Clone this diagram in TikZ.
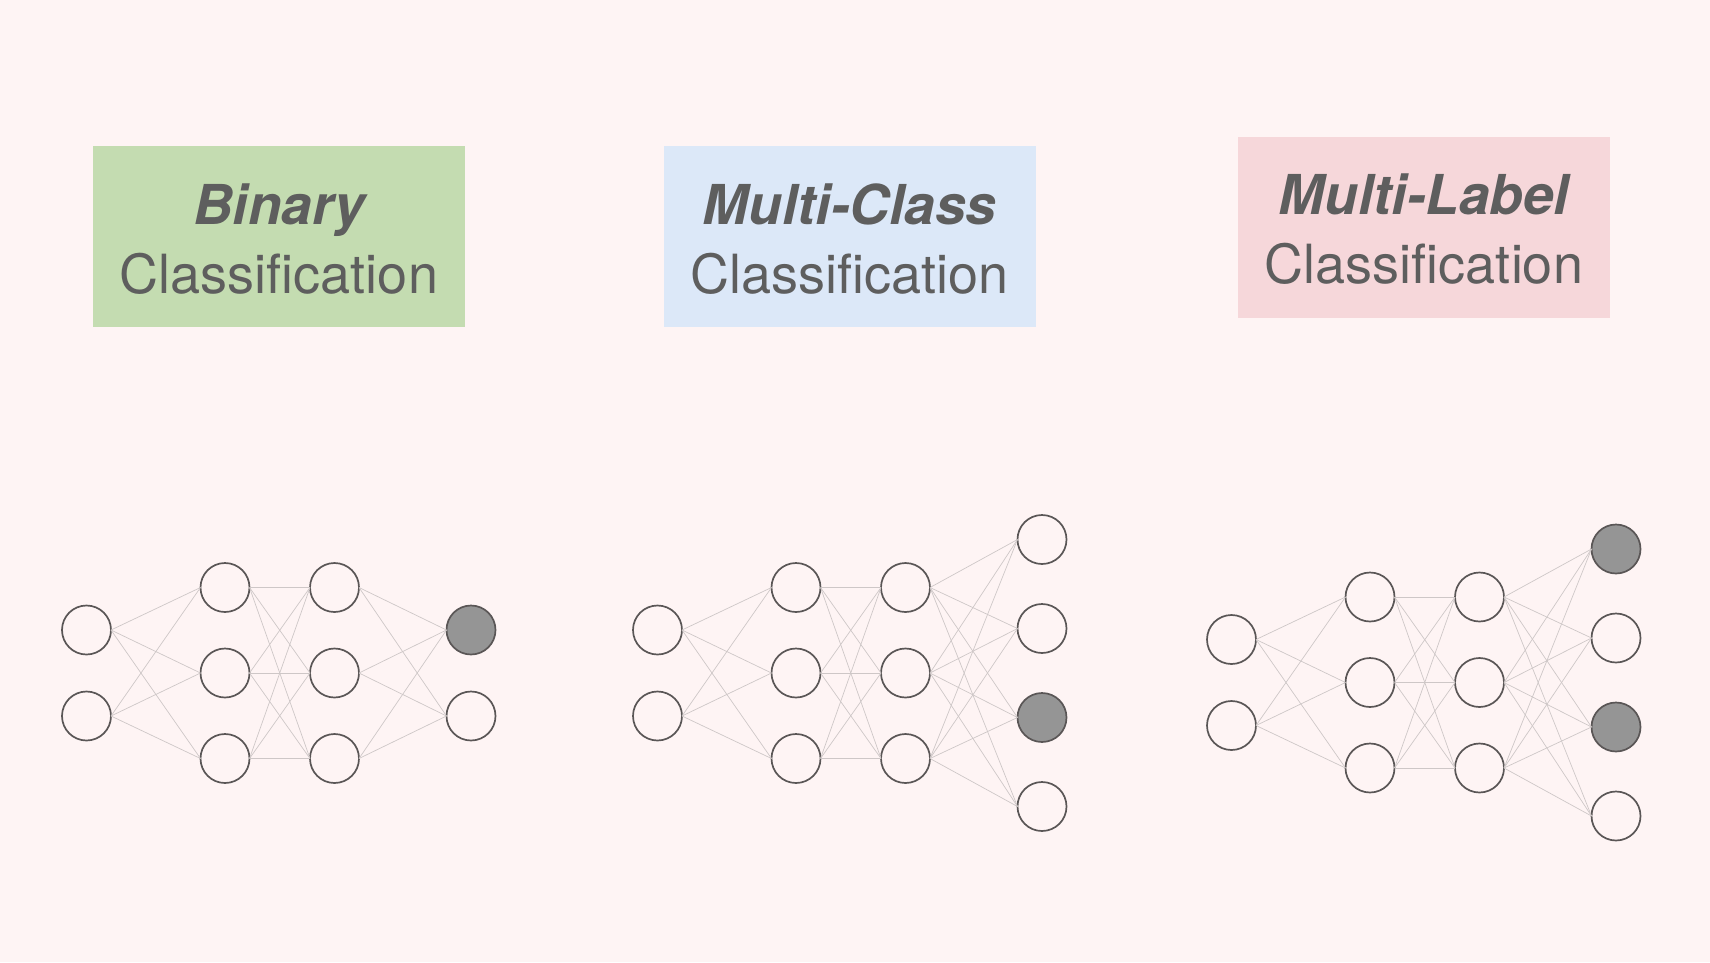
\documentclass[tikz,border=0pt]{standalone}
\usepackage{fontspec}
\setmainfont{TeX Gyre Heros}
\definecolor{bg}{HTML}{FEF4F4}
\definecolor{greenbox}{HTML}{C4DCB1}
\definecolor{bluebox}{HTML}{DCE8F8}
\definecolor{pinkbox}{HTML}{F6D7DA}
\definecolor{tcol}{HTML}{5E5E5E}
\definecolor{ncol}{HTML}{5A5656}
\definecolor{actfill}{HTML}{959595}
\definecolor{linkcol}{HTML}{CEC7C7}
\begin{document}
\begin{tikzpicture}[x=1pt,y=-1pt,
  neuron/.style={circle,draw=ncol,line width=1.7pt,fill=bg,minimum size=49pt,inner sep=0pt,outer sep=0pt},
  active/.style={neuron,fill=actfill},
  link/.style={draw=linkcol,line width=0.7pt},
  box/.style={draw=none,inner sep=0pt,minimum width=372pt,minimum height=181pt},
  ttl/.style={text=tcol,anchor=base,inner sep=0pt,font=\fontsize{55}{60}\selectfont\bfseries\itshape},
  sub/.style={text=tcol,anchor=base,inner sep=0pt,font=\fontsize{54}{60}\selectfont}]
\useasboundingbox (0,0) rectangle (1710,962);
\fill[bg] (0,0) rectangle (1710,962);

% title boxes
\node[box,fill=greenbox] (b1) at (279,236.5) {};
\node[ttl] (t1) at (279,224) {Binary};
\node[sub] (s1) at (279,293) {Classification};
\node[box,fill=bluebox] (b2) at (849.5,236.5) {};
\node[ttl] (t2) at (849.5,224) {Multi-Class};
\node[sub] (s2) at (849.5,293) {Classification};
\node[box,fill=pinkbox] (b3) at (1424,227) {};
\node[ttl] (t3) at (1424,214) {Multi-Label};
\node[sub] (s3) at (1424,283) {Classification};

% network A (binary)
\begin{scope}[shift={(86.5,673)}]
  \node[neuron] (Ai1) at (0,-43) {};
  \node[neuron] (Ai2) at (0,43) {};
  \foreach \k/\yy in {1/-85.5,2/0,3/85.5}{
    \node[neuron] (Ah\k) at (138.5,\yy) {};
    \node[neuron] (Ag\k) at (248,\yy) {};
  }
  \node[active] (Ao1) at (384.5,-43) {};
  \node[neuron] (Ao2) at (384.5,43) {};
\end{scope}
\foreach \a in {1,2} \foreach \b in {1,2,3} \draw[link] (Ai\a.east) -- (Ah\b.west);
\foreach \a in {1,2,3} \foreach \b in {1,2,3} \draw[link] (Ah\a.east) -- (Ag\b.west);
\foreach \a in {1,2,3} \foreach \b in {1,2} \draw[link] (Ag\a.east) -- (Ao\b.west);

% network B (multi-class)
\begin{scope}[shift={(657.5,673)}]
  \node[neuron] (Bi1) at (0,-43) {};
  \node[neuron] (Bi2) at (0,43) {};
  \foreach \k/\yy in {1/-85.5,2/0,3/85.5}{
    \node[neuron] (Bh\k) at (138.5,\yy) {};
    \node[neuron] (Bg\k) at (248,\yy) {};
  }
  \node[neuron] (Bo1) at (384.5,-133.5) {};
  \node[neuron] (Bo2) at (384.5,-44.5) {};
  \node[active] (Bo3) at (384.5,44.5) {};
  \node[neuron] (Bo4) at (384.5,133.5) {};
\end{scope}
\foreach \a in {1,2} \foreach \b in {1,2,3} \draw[link] (Bi\a.east) -- (Bh\b.west);
\foreach \a in {1,2,3} \foreach \b in {1,2,3} \draw[link] (Bh\a.east) -- (Bg\b.west);
\foreach \a in {1,2,3} \foreach \b in {1,2,3,4} \draw[link] (Bg\a.east) -- (Bo\b.west);

% network C (multi-label)
\begin{scope}[shift={(1231.5,682.5)}]
  \node[neuron] (Ci1) at (0,-43) {};
  \node[neuron] (Ci2) at (0,43) {};
  \foreach \k/\yy in {1/-85.5,2/0,3/85.5}{
    \node[neuron] (Ch\k) at (138.5,\yy) {};
    \node[neuron] (Cg\k) at (248,\yy) {};
  }
  \node[active] (Co1) at (384.5,-133.5) {};
  \node[neuron] (Co2) at (384.5,-44.5) {};
  \node[active] (Co3) at (384.5,44.5) {};
  \node[neuron] (Co4) at (384.5,133.5) {};
\end{scope}
\foreach \a in {1,2} \foreach \b in {1,2,3} \draw[link] (Ci\a.east) -- (Ch\b.west);
\foreach \a in {1,2,3} \foreach \b in {1,2,3} \draw[link] (Ch\a.east) -- (Cg\b.west);
\foreach \a in {1,2,3} \foreach \b in {1,2,3,4} \draw[link] (Cg\a.east) -- (Co\b.west);
\end{tikzpicture}
\end{document}
